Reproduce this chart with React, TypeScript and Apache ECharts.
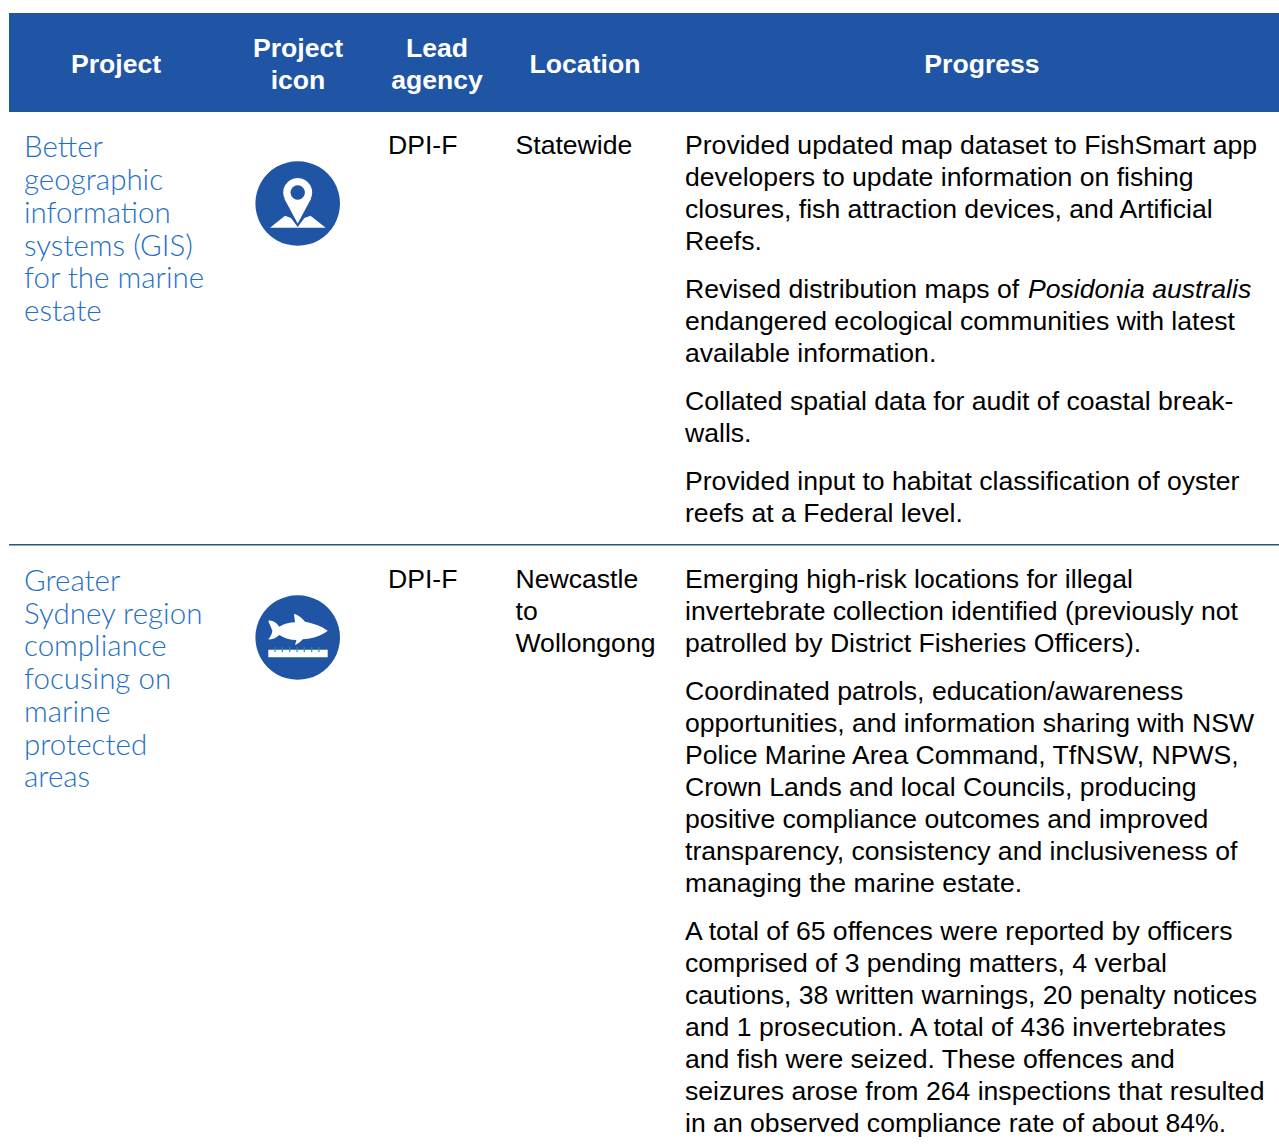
import React, { useEffect, useRef } from "react";
import * as echarts from "echarts";

const headers: [string[], number][] = [
  [["Project"], 116],
  [["Project", "icon"], 298],
  [["Lead", "agency"], 437],
  [["Location"], 585],
  [["Progress"], 982],
];
const projectA = ["Better", "geographic", "information", "systems (GIS)", "for the marine", "estate"];
const projectB = ["Greater", "Sydney region", "compliance", "focusing on", "marine", "protected", "areas"];
const projectYA = [145, 178, 211, 244, 276, 309];
const projectYB = [579, 612, 644, 677, 710, 743, 775];
const agency = "DPI-F";
const locationA = ["Statewide"];
const locationB = ["Newcastle", "to", "Wollongong"];
const progressA: [number, string][] = [
  [145, "Provided updated map dataset to FishSmart app"],
  [177, "developers to update information on fishing"],
  [209, "closures, fish attraction devices, and Artificial"],
  [241, "Reefs."],
  [321, "endangered ecological communities with latest"],
  [353, "available information."],
  [401, "Collated spatial data for audit of coastal break-"],
  [433, "walls."],
  [481, "Provided input to habitat classification of oyster"],
  [513, "reefs at a Federal level."],
];
const progressB: [number, string][] = [
  [579, "Emerging high-risk locations for illegal"],
  [611, "invertebrate collection identified (previously not"],
  [643, "patrolled by District Fisheries Officers)."],
  [691, "Coordinated patrols, education/awareness"],
  [723, "opportunities, and information sharing with NSW"],
  [755, "Police Marine Area Command, TfNSW, NPWS,"],
  [787, "Crown Lands and local Councils, producing"],
  [819, "positive compliance outcomes and improved"],
  [851, "transparency, consistency and inclusiveness of"],
  [883, "managing the marine estate."],
  [931, "A total of 65 offences were reported by officers"],
  [963, "comprised of 3 pending matters, 4 verbal"],
  [995, "cautions, 38 written warnings, 20 penalty notices"],
  [1027, "and 1 prosecution. A total of 436 invertebrates"],
  [1059, "and fish were seized. These offences and"],
  [1091, "seizures arose from 264 inspections that resulted"],
  [1123, "in an observed compliance rate of about 84%."],
];
const rulerTicks = [275, 282.3, 289.7, 297, 304.3, 311.7, 319];

const BLUE = "#2055a5";
const BODY = "Liberation Sans";
const SIZE = 26.6;

const fishPath =
  "M268.3 620.7 C272 620 276 622 279.3 626.7 C285 623.5 290 622.3 295 622.3 L294 614 C298 614.5 302 618 305 621.7 C315 623.5 323 627 327.7 630.7 C322 635.5 312 639 302.7 639.3 C300 642 298 644 295 645 L296.5 640 C290 640 284 638 279.3 635 C276 638 272 640 268.3 639.3 C271 636 272.3 633 272.3 630.7 C271 627 269.5 624 268.3 620.7 Z";

function txt(x: number, y: number, text: string, fill: string, font: string, size: number, extra: any = {}) {
  return {
    type: "text",
    x,
    y,
    silent: true,
    style: { text, x: 0, y: 0, fill, fontFamily: font, fontSize: size, textVerticalAlign: "middle", verticalAlign: "middle", ...extra },
  };
}

export default function App() {
  const ref = useRef<HTMLDivElement>(null);
  useEffect(() => {
    echarts.graphic.registerShape("fishIcon", echarts.graphic.extendPath(fishPath, {}) as any);
    const chart = echarts.init(ref.current!, undefined, { renderer: "svg" });
    const els: any[] = [];
    els.push({ type: "rect", shape: { x: 9, y: 13, width: 1270, height: 99 }, style: { fill: BLUE } });
    els.push({ type: "rect", shape: { x: 9, y: 13, width: 1270, height: 1 }, style: { fill: "#1f5a7c" } });
    els.push({ type: "rect", shape: { x: 9, y: 111, width: 1270, height: 1 }, style: { fill: "#1f5a7c" } });
    els.push({ type: "rect", shape: { x: 9, y: 544, width: 1270, height: 1.4 }, style: { fill: "#1f5a7c" } });
    headers.forEach(([lines, cx]) => {
      const ys = lines.length === 2 ? [48, 80] : [64];
      lines.forEach((l, i) =>
        els.push(txt(cx, ys[i], l, "#ffffff", BODY, 26.6, { fontWeight: "bold", align: "center", textAlign: "center" }))
      );
    });
    projectA.forEach((l, i) => els.push(txt(24, projectYA[i], l, "#1f6fc4", "Lato", 29.5, { fontWeight: 300 })));
    projectB.forEach((l, i) => els.push(txt(24, projectYB[i], l, "#1f6fc4", "Lato", 29.5, { fontWeight: 300 })));
    els.push(txt(388, 145, agency, "#000", BODY, SIZE));
    els.push(txt(388, 579, agency, "#000", BODY, SIZE));
    locationA.forEach((l) => els.push(txt(515.5, 145, l, "#000", BODY, SIZE)));
    locationB.forEach((l, i) => els.push(txt(515.5, 579 + i * 32, l, "#000", BODY, SIZE)));
    progressA.forEach(([y, l]) => els.push(txt(685, y, l, "#000", BODY, SIZE)));
    els.push(txt(685, 289, "Revised distribution maps of", "#000", BODY, SIZE));
    els.push(txt(1028, 289, "Posidonia australis", "#000", BODY, SIZE, { fontStyle: "italic" }));
    progressB.forEach(([y, l]) => els.push(txt(685, y, l, "#000", BODY, SIZE)));

    // GIS icon
    els.push({ type: "circle", shape: { cx: 297.7, cy: 203.5, r: 42.3 }, style: { fill: BLUE } });
    els.push({
      type: "polygon",
      shape: { points: [[270, 227.7], [285, 215.7], [291, 218], [297.7, 227], [304.4, 218], [310.5, 215.7], [325.7, 227.7]] },
      style: { fill: "#fff" },
    });
    els.push({
      type: "polygon",
      shape: { points: [[284, 197], [311.4, 197], [297.7, 226]] },
      style: { fill: BLUE },
    });
    els.push({
      type: "polygon",
      shape: { points: [[284.5, 199], [310.9, 199], [297.7, 223.5]] },
      style: { fill: "#fff" },
    });
    els.push({ type: "circle", shape: { cx: 297.7, cy: 192.5, r: 14.5 }, style: { fill: "#fff" } });
    els.push({ type: "circle", shape: { cx: 297.7, cy: 192.5, r: 7.2 }, style: { fill: BLUE } });

    // Fish icon
    els.push({ type: "circle", shape: { cx: 297.7, cy: 637.5, r: 42.3 }, style: { fill: BLUE } });
    els.push({ type: "fishIcon", x: 0, y: 0, style: { fill: "#fff" } });
    els.push({ type: "rect", shape: { x: 268.3, y: 649.7, width: 59.4, height: 7.6 }, style: { fill: "#fff" } });
    rulerTicks.forEach((x) =>
      els.push({ type: "rect", shape: { x: x - 0.6, y: 647, width: 1.2, height: 5 }, style: { fill: "#2a8f8a" } })
    );

    chart.setOption({ animation: false, backgroundColor: "#fff", graphic: { elements: els } });
    return () => chart.dispose();
  }, []);
  return <div ref={ref} style={{ position: "fixed", left: 0, top: 0, width: 1279, height: 1146 }} />;
}
